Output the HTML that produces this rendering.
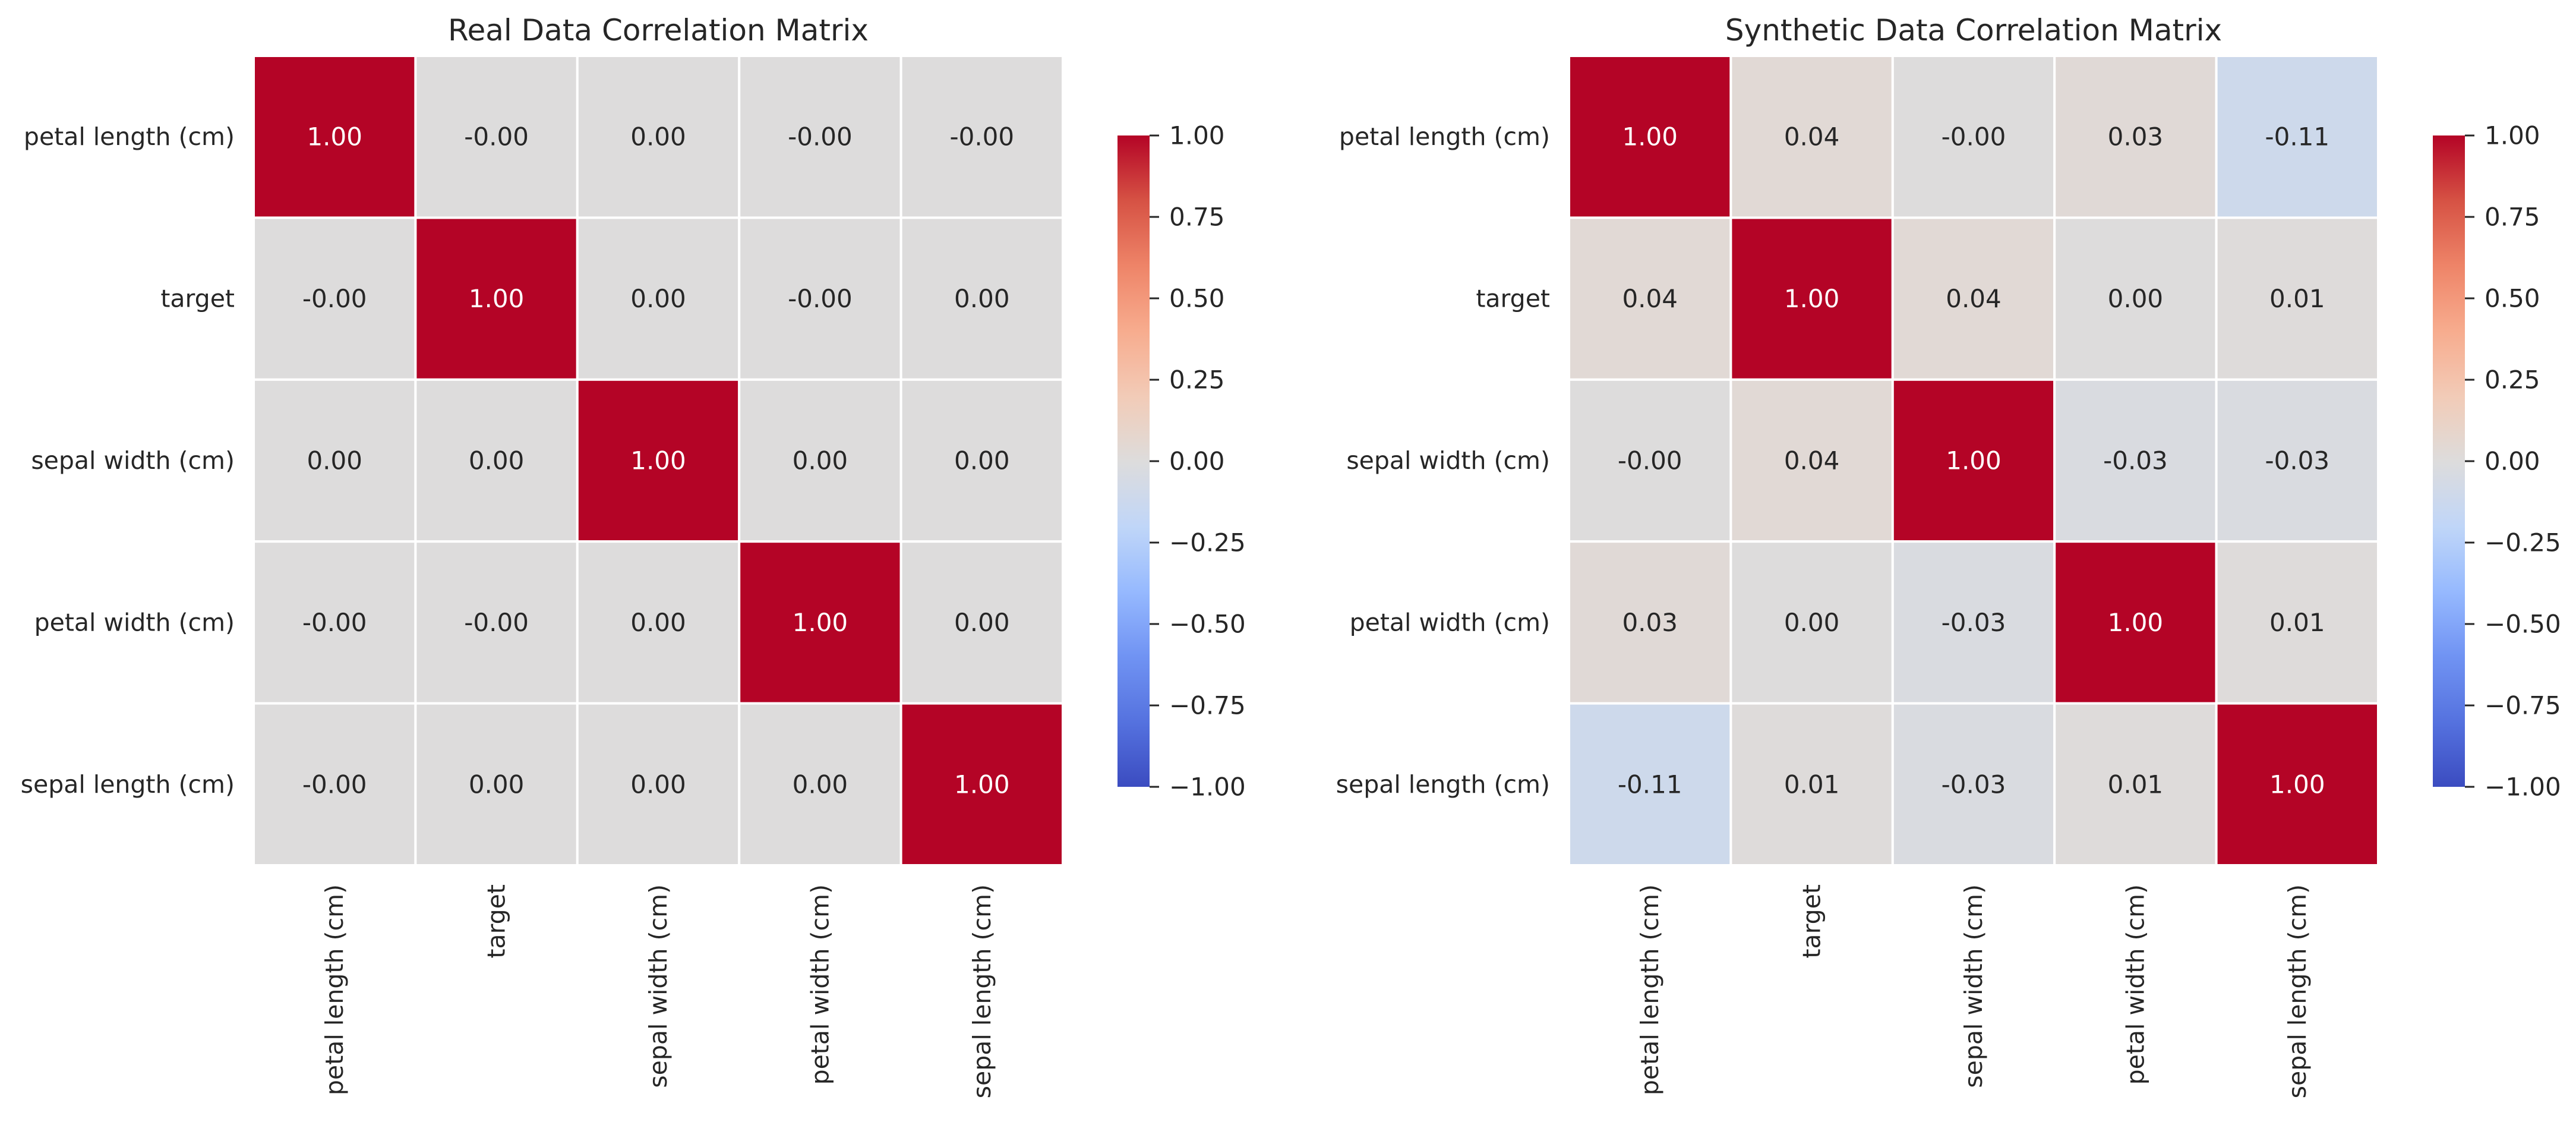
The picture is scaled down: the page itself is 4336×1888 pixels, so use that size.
<!DOCTYPE html>
<html><head><meta charset="utf-8">
<style>
html,body{margin:0;padding:0;background:#fff;}
svg text{font-family:"DejaVu Sans","Liberation Sans",sans-serif;fill:#262626;}
</style></head>
<body>
<svg id="chart" width="4336" height="1883" viewBox="0 0 4336 1883" xmlns="http://www.w3.org/2000/svg">
<rect width="4336" height="1883" fill="#fff"/>
</svg>
<script>
const labels = ["petal length (cm)","target","sepal width (cm)","petal width (cm)","sepal length (cm)"];
const realValues = [
 [1.00,-0.00,0.00,-0.00,-0.00],
 [-0.00,1.00,0.00,-0.00,0.00],
 [0.00,0.00,1.00,0.00,0.00],
 [-0.00,-0.00,0.00,1.00,0.00],
 [-0.00,0.00,0.00,0.00,1.00]
];
const realSigns = [
 ["","-","","-","-"],
 ["-","","","-",""],
 ["","","","",""],
 ["-","-","","",""],
 ["-","","","",""]
];
const synthValues = [
 [1.00,0.04,-0.00,0.03,-0.11],
 [0.04,1.00,0.04,0.00,0.01],
 [-0.00,0.04,1.00,-0.03,-0.03],
 [0.03,0.00,-0.03,1.00,0.01],
 [-0.11,0.01,-0.03,0.01,1.00]
];
const synthNegZero = [
 [false,false,true,false,false],
 [false,false,false,false,false],
 [true,false,false,false,false],
 [false,false,false,false,false],
 [false,false,false,false,false]
];
const cbTicks = [1.0,0.75,0.5,0.25,0,-0.25,-0.5,-0.75,-1.0];
const cbTickLabels = ["1.00","0.75","0.50","0.25","0.00","\u22120.25","\u22120.50","\u22120.75","\u22121.00"];

const NS="http://www.w3.org/2000/svg";
const svg=document.getElementById('chart');
function mk(tag,attrs,parent){const e=document.createElementNS(NS,tag);for(const k in attrs)e.setAttribute(k,attrs[k]);(parent||svg).appendChild(e);return e;}

const cw=[[0,[59,76,192]],[0.1,[85,114,223]],[0.2,[112,147,243]],[0.3,[150,185,254]],[0.4,[192,214,248]],[0.5,[221,220,220]],[0.6,[242,203,183]],[0.7,[247,172,142]],[0.8,[238,132,104]],[0.9,[214,82,68]],[1,[180,4,38]]];
function coolwarm(v){
 let t=(v+1)/2; t=Math.max(0,Math.min(1,t));
 for(let i=0;i<cw.length-1;i++){const a=cw[i],b=cw[i+1];
  if(t<=b[0]){const f=(t-a[0])/(b[0]-a[0]);
   const c=a[1].map((x,j)=>Math.round(x+(b[1][j]-x)*f));return `rgb(${c[0]},${c[1]},${c[2]})`;}}
 return "rgb(180,4,38)";
}

function drawPanel(x0,title,values,fmt,cbx){
 const y0=94, size=1362, n=labels.length, cell=size/n;
 const g=mk('g',{});
 
 
 const t=mk('text',{x:x0+size/2,y:68,'text-anchor':'middle','font-size':50},g);
 t.textContent=title;
 
 
 const xs=i=>x0+i*cell, ys=i=>y0+i*cell;
 for(let r=0;r<n;r++)for(let c=0;c<n;c++){
  const v=values[r][c];
  const rc=mk('rect',{x:xs(c),y:ys(r),width:cell,height:cell,fill:coolwarm(v),stroke:'#fff','stroke-width':4},g);
  
  
  const tx=mk('text',{x:xs(c)+cell/2,y:ys(r)+cell/2,'text-anchor':'middle','dominant-baseline':'central','font-size':42},g);
  tx.textContent=fmt(r,c,v);
  if(Math.abs(v)>0.6) tx.style.fill='#fff';
  
  
 }
 for(let i=0;i<n;i++){
  const yl=mk('text',{x:x0-32,y:ys(i)+cell/2,'text-anchor':'end','dominant-baseline':'central','font-size':41},g);
  yl.textContent=labels[i];
  
  
  const cx=xs(i)+cell/2, cy=y0+size+32;
  const xl=mk('text',{x:cx,y:cy,'text-anchor':'end','dominant-baseline':'central','font-size':41,transform:`rotate(-90 ${cx} ${cy})`},g);
  xl.textContent=labels[i];
  
  
 }
 const cbTop=228, cbH=1096, cbW=54;
 const cbY=v=>cbTop+(1-v)/2*cbH;
 const defs=mk('defs',{},g);
 const gid='grad'+cbx;
 const lg=mk('linearGradient',{id:gid,x1:0,y1:1,x2:0,y2:0},defs);
 for(let i=0;i<=20;i++){const v=-1+i/10;mk('stop',{offset:i/20,'stop-color':coolwarm(v)},lg);}
 const cb=mk('rect',{x:cbx,y:cbTop,width:cbW,height:cbH,fill:`url(#${gid})`},g);
 
 
 cbTicks.forEach((v,i)=>{
  mk('line',{x1:cbx+cbW,x2:cbx+cbW+16,y1:cbY(v),y2:cbY(v),stroke:'#262626','stroke-width':3},g);
  const l=mk('text',{x:cbx+cbW+33,y:cbY(v),'dominant-baseline':'central','font-size':42},g);
  l.textContent=cbTickLabels[i];
  
  
 });
}
drawPanel(427,"Real Data Correlation Matrix",realValues,(r,c,v)=>realSigns[r][c]+Math.abs(v).toFixed(2),1881);
drawPanel(2641,"Synthetic Data Correlation Matrix",synthValues,(r,c,v)=>(v<0||synthNegZero[r][c]?"-":"")+Math.abs(v).toFixed(2),4095);
</script>
</body></html>
